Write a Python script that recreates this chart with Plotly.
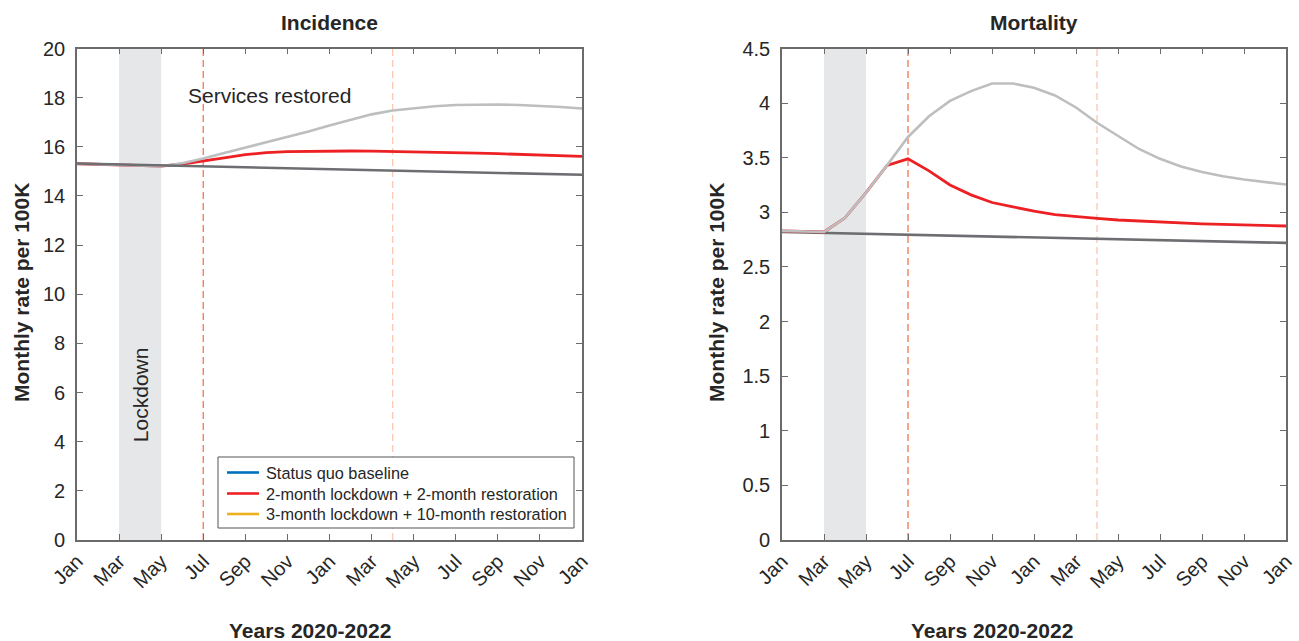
import plotly.graph_objects as go

# ---------------- data ----------------
months = list(range(25))  # Jan 2020 .. Jan 2022
tick_vals = list(range(0, 25, 2))
tick_text = ["Jan", "Mar", "May", "Jul", "Sep", "Nov", "Jan",
             "Mar", "May", "Jul", "Sep", "Nov", "Jan"]

inc_baseline = [15.32, 15.30, 15.28, 15.26, 15.24, 15.22, 15.20, 15.18, 15.16,
                15.14, 15.12, 15.10, 15.08, 15.06, 15.04, 15.02, 15.00, 14.98,
                14.96, 14.94, 14.92, 14.90, 14.88, 14.87, 14.86]
inc_2m = [15.31, 15.29, 15.26, 15.23, 15.21, 15.30, 15.41, 15.55, 15.68, 15.76,
          15.80, 15.82, 15.83, 15.83, 15.82, 15.81, 15.80, 15.78, 15.76, 15.74,
          15.72, 15.69, 15.66, 15.63, 15.61]
inc_3m = [15.31, 15.29, 15.26, 15.23, 15.21, 15.33, 15.52, 15.75, 15.97, 16.16,
          16.38, 16.62, 16.87, 17.10, 17.32, 17.48, 17.58, 17.65, 17.70, 17.72,
          17.72, 17.70, 17.67, 17.62, 17.56]

mor_baseline = [2.820, 2.816, 2.812, 2.808, 2.803, 2.799, 2.795, 2.791, 2.787,
                2.783, 2.779, 2.775, 2.770, 2.766, 2.762, 2.758, 2.754, 2.750,
                2.746, 2.741, 2.737, 2.733, 2.729, 2.724, 2.720]
mor_2m = [2.83, 2.825, 2.82, 2.95, 3.18, 3.43, 3.49, 3.38, 3.25, 3.16, 3.09,
          3.05, 3.01, 2.98, 2.96, 2.945, 2.93, 2.92, 2.91, 2.90, 2.895, 2.89,
          2.885, 2.88, 2.875]
mor_3m = [2.83, 2.825, 2.82, 2.95, 3.18, 3.43, 3.69, 3.88, 4.02, 4.11, 4.18,
          4.18, 4.14, 4.07, 3.96, 3.82, 3.70, 3.58, 3.49, 3.42, 3.37, 3.33,
          3.30, 3.275, 3.255]

legend_names = ["Status quo baseline",
                "2-month lockdown + 2-month restoration",
                "3-month lockdown + 10-month restoration"]
legend_colors = ["#0072bd", "#ed2124", "#edb120"]
lockdown_span = [2, 4]      # Mar .. May 2020
restore_2m = 6              # Jul 2020
restore_3m = 15             # Apr 2021

# ---------------- styles ----------------
FONT = "Liberation Sans, Arial, Helvetica, sans-serif"
C_BASE = "#6d6e71"
C_RED = "#ed2124"
C_GRAY = "#bcbec0"
AX = "#6b6b6b"
TXT = "#262626"
W, H = 1299, 641


def px(xp):
    return xp / W


def py(yp):
    return (H - yp) / H


fig = go.Figure()


def add_lines(xa, ya, base, red, gray, base_on_top):
    order = [("r", red), ("g", gray), ("b", base)] if base_on_top else \
            [("b", base), ("r", red), ("g", gray)]
    for k, vals in order:
        col, w = {"b": (C_BASE, 2.6), "r": (C_RED, 2.8), "g": (C_GRAY, 2.6)}[k]
        fig.add_trace(go.Scatter(x=months, y=vals, mode="lines",
                                 line=dict(color=col, width=w),
                                 xaxis=xa, yaxis=ya, showlegend=False,
                                 hoverinfo="skip"))


add_lines("x", "y", inc_baseline, inc_2m, inc_3m, True)
add_lines("x2", "y2", mor_baseline, mor_2m, mor_3m, False)

shapes = []
for xr, yr in [("x", "y"), ("x2", "y2")]:
    yd = "y domain" if yr == "y" else "y2 domain"
    shapes.append(dict(type="rect", xref=xr, yref=yd, x0=lockdown_span[0],
                       x1=lockdown_span[1], y0=0, y1=1, fillcolor="#e6e7e8",
                       line=dict(width=0), layer="below"))
    shapes.append(dict(type="line", xref=xr, yref=yd, x0=restore_2m,
                       x1=restore_2m, y0=0, y1=1,
                       line=dict(color="#f47552", width=1.3, dash="7px,4px"),
                       layer="below"))
    shapes.append(dict(type="line", xref=xr, yref=yd, x0=restore_3m,
                       x1=restore_3m, y0=0, y1=1,
                       line=dict(color="#fbc8b2", width=1.3, dash="7px,4px"),
                       layer="below"))

xdom1 = [px(77), px(582)]
xdom2 = [px(782), px(1286)]
ydom = [py(540), py(48.5)]

xcommon = dict(range=[0, 24], tickmode="array", tickvals=tick_vals,
               ticktext=tick_text, tickangle=-45, ticks="inside", ticklen=6,
               tickcolor=AX, showline=True, linecolor=AX, linewidth=1.6,
               mirror="ticks", showgrid=False, zeroline=False,
               tickfont=dict(family=FONT, size=20, color=TXT),
               automargin=False)
ycommon = dict(ticks="inside", ticklen=6, tickcolor=AX, showline=True,
               linecolor=AX, linewidth=1.6, mirror="ticks", showgrid=False,
               zeroline=False, tickfont=dict(family=FONT, size=20, color=TXT),
               ticklabelstandoff=6, automargin=False)


def ann(text, x, y, size=21, angle=0, xanchor="center", xref="paper",
        yref="paper"):
    return dict(text=text, x=x, y=y, xref=xref, yref=yref, showarrow=False,
                xanchor=xanchor, yanchor="middle", textangle=angle,
                font=dict(family=FONT, size=size, color=TXT))


annotations = [
    ann("<b>Incidence</b>", (xdom1[0] + xdom1[1]) / 2, py(22)),
    ann("<b>Mortality</b>", (xdom2[0] + xdom2[1]) / 2, py(22)),
    ann("<b>Years 2020-2022</b>", px(310), py(630)),
    ann("<b>Years 2020-2022</b>", px(992), py(630)),
    ann("<b>Monthly rate per 100K</b>", px(22), py(293), angle=-90),
    ann("<b>Monthly rate per 100K</b>", px(717), py(293), angle=-90),
    ann("Lockdown", 3, 5.9, angle=-90, xref="x", yref="y"),
    ann("Services restored", 5.18, 18.1, xanchor="left", xref="x", yref="y"),
]

# manual legend box (legend swatch colours differ from drawn lines)
shapes.append(dict(type="rect", xref="paper", yref="paper", x0=px(218),
                   x1=px(574), y0=py(528), y1=py(457), fillcolor="white",
                   line=dict(color="#555555", width=1), layer="above"))
row_y = [472.5, 493.5, 514]
for name, col, ry in zip(legend_names, legend_colors, row_y):
    shapes.append(dict(type="line", xref="paper", yref="paper", x0=px(227),
                       x1=px(259), y0=py(ry), y1=py(ry),
                       line=dict(color=col, width=2.6), layer="above"))
    annotations.append(ann(name, px(264), py(ry), size=16.3, xanchor="left"))

fig.update_layout(
    width=W, height=H, autosize=False,
    margin=dict(l=0, r=0, t=0, b=0),
    paper_bgcolor="white", plot_bgcolor="white",
    xaxis=dict(domain=xdom1, anchor="y", **xcommon),
    yaxis=dict(domain=ydom, anchor="x", range=[0, 20], tickmode="linear",
               tick0=0, dtick=2, **ycommon),
    xaxis2=dict(domain=xdom2, anchor="y2", **xcommon),
    yaxis2=dict(domain=ydom, anchor="x2", range=[0, 4.5], tickmode="linear",
                tick0=0, dtick=0.5, **ycommon),
    shapes=shapes,
    annotations=annotations,
    showlegend=False,
)

fig.write_html("out.html",
               config={"displayModeBar": False},
               post_script="document.body.style.margin='0';"
                           "document.body.style.overflow='hidden';")
